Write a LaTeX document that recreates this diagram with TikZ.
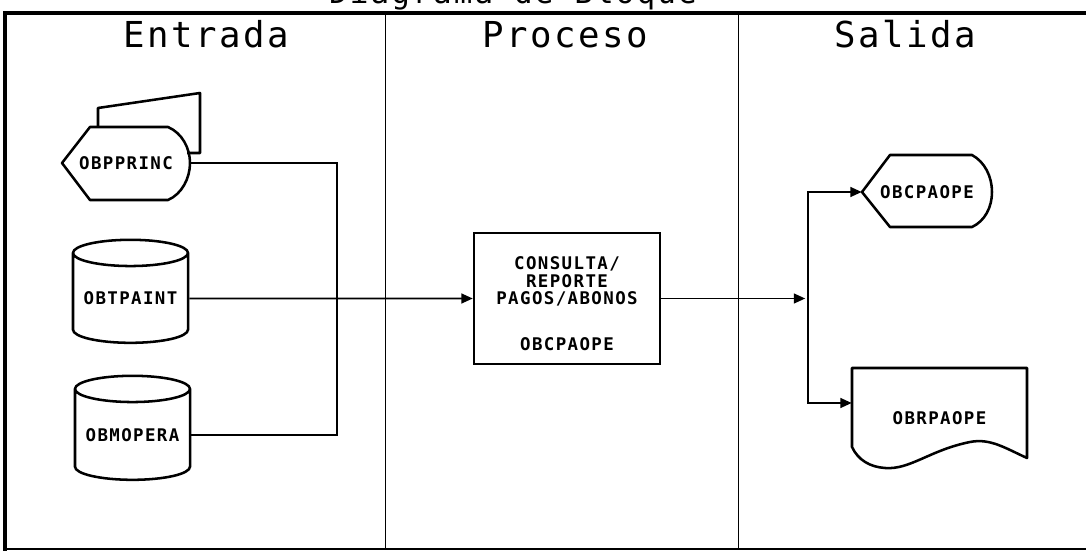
\documentclass[tikz,border=0pt]{standalone}
\usepackage{fontspec}
\usepackage{tikz}
\usetikzlibrary{shapes.geometric,arrows.meta}
\newfontfamily\headfont[LetterSpace=7]{DejaVu Sans Mono}
\newfontfamily\tagfont[LetterSpace=8]{DejaVu Sans Mono}

\begin{document}
\begin{tikzpicture}[x=0.025cm,y=-0.025cm]
        \useasboundingbox (0,0) rectangle (1086,551);
        \tikzset{
                head/.style={font=\headfont\fontsize{25.4}{28}\selectfont, anchor=base, inner sep=0},
                tag/.style={font=\tagfont\bfseries\fontsize{12.4}{12.5}\selectfont, inner sep=0},
                symline/.style={line width=1.8pt, line join=round},
                dbcyl/.style={tag, cylinder, shape border rotate=90, aspect=0.28, draw, line width=1.8pt},
                procbox/.style={tag, draw, line width=1.8pt, minimum width=4.65cm, minimum height=3.275cm, align=center},
                link/.style={line width=1.1pt},
                flow/.style={link, -{Triangle[length=8pt,width=7pt]}}
        }

        % frame and columns
        \node[head, font=\headfont\fontsize{22}{26}\selectfont] (title) at (513,4) {Diagrama de Bloque};
        \draw[line width=2.8pt] (5,551) -- (5,13) -- (1086,13);
        \draw[line width=0.9pt] (5,549) -- (1086,549);
        \draw[line width=0.7pt] (385,13) -- (385,549);
        \draw[line width=0.7pt] (738,13) -- (738,549);
        \node[head] (hin) at (206,48) {Entrada};
        \node[head] (hproc) at (565,48) {Proceso};
        \node[head] (hout) at (905,48) {Salida};

        % entrada
        \draw[symline] (98,127) -- (98,108) -- (200,93) -- (200,153) -- (187,153);
        \node[tag, minimum width=3.2cm, minimum height=1.825cm] (princ) at (126,163) {OBPPRINC};
        \draw[symline] (62,163) -- (90,127) -- (168,127) .. controls (182,133) and (190,148) .. (190,163)
                .. controls (190,178) and (182,194) .. (168,200) -- (90,200) -- cycle;
        \node[dbcyl, minimum width=2.875cm, minimum height=2.575cm] (paint) at (130.5,298.5) {OBTPAINT};
        \node[dbcyl, minimum width=2.875cm, minimum height=2.6cm] (mopera) at (132.5,435) {OBMOPERA};

        % proceso
        \node[procbox] (proc) at (567,298.5) {\rule{0pt}{16.8pt}CONSULTA/\\REPORTE\\PAGOS/ABONOS\\[20.2pt]OBCPAOPE};

        % salida
        \node[tag, minimum width=3.25cm, minimum height=1.8cm] (cpa) at (927,192) {OBCPAOPE};
        \draw[symline] (862,192) -- (890,155) -- (972,155) .. controls (985,162) and (992,177) .. (992,192)
                .. controls (992,207) and (985,221) .. (972,227) -- (890,227) -- cycle;
        \node[tag, minimum width=4.375cm] (rpa) at (939.5,418) {OBRPAOPE};
        \draw[symline] (852,447) -- (852,368) -- (1027,368) -- (1027,458)
                .. controls (1005,448) and (990,438) .. (970,442)
                .. controls (930,450) and (910,470) .. (885,468)
                .. controls (870,467) and (858,460) .. cycle;

        % connectors
        \coordinate (join) at (337,298.5);
        \coordinate (split) at (808,298.5);
        \draw[link] (princ.east) -| (join);
        \draw[link] (mopera.east) -| (join);
        \draw[flow] (paint.east) -- (proc.west);
        \draw[flow, shorten >=2pt] (proc.east) -- (split);
        \draw[flow] (split) |- (cpa.west);
        \draw[flow] (split) |- ([yshift=0.375cm]rpa.west);
\end{tikzpicture}
\end{document}
